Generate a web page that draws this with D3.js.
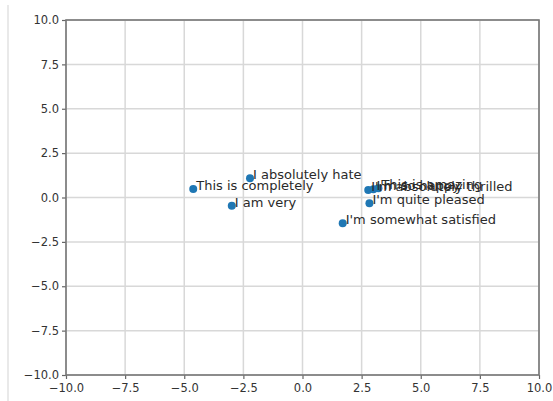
<!DOCTYPE html>
<html><head><meta charset="utf-8">
<script src="https://cdn.jsdelivr.net/npm/d3@7"></script>
<style>body{margin:0;background:#fff;}svg{display:block;font-family:"DejaVu Sans",sans-serif;}</style>
</head><body>
<script>
const labels = ["This is completely","I absolutely hate","I am very","I'm absolutely thrilled","This is amazing","I'm so happy","I'm quite pleased","I'm somewhat satisfied"];
const xs = [-4.62,-2.22,-2.99,2.78,3.21,3.0,2.83,1.70];
const ys = [0.48,1.08,-0.46,0.42,0.52,0.47,-0.33,-1.45];
const tickVals = [-10,-7.5,-5,-2.5,0,2.5,5,7.5,10];

const W=553,H=401;
const svg=d3.select("body").append("svg").attr("width",W).attr("height",H);
const L=66,R=539,T=20,B=375;
const x=d3.scaleLinear().domain([-10,10]).range([L,R]);
const y=d3.scaleLinear().domain([-10,10]).range([B,T]);
const fmt=d=>(d<0?"\u2212":"")+Math.abs(d).toFixed(1);

svg.append("line").attr("x1",8).attr("x2",8).attr("y1",5).attr("y2",H).attr("stroke","#e2e2e2").attr("stroke-width",1.5);

// grid
svg.append("g").selectAll("line").data(tickVals).join("line")
  .attr("x1",d=>x(d)).attr("x2",d=>x(d)).attr("y1",T).attr("y2",B).attr("stroke","#d8d8d8").attr("stroke-width",1.5);
svg.append("g").selectAll("line").data(tickVals).join("line")
  .attr("y1",d=>y(d)).attr("y2",d=>y(d)).attr("x1",L).attr("x2",R).attr("stroke","#d8d8d8").attr("stroke-width",1.5);

const xa=svg.append("g").attr("transform",`translate(0,${B})`).call(d3.axisBottom(x).tickValues(tickVals).tickFormat(fmt).tickSize(4).tickSizeOuter(0));
const ya=svg.append("g").attr("transform",`translate(${L},0)`).call(d3.axisLeft(y).tickValues(tickVals).tickFormat(fmt).tickSize(4).tickSizeOuter(0));
[xa,ya].forEach(g=>{g.select(".domain").remove();g.selectAll("line").attr("stroke","#666").attr("stroke-width",1.2);
  g.selectAll("text").attr("fill","#333").style("font-size","11.5px").style("font-family","DejaVu Sans");});
xa.selectAll("text").attr("dy","0.9em");
// frame
svg.append("rect").attr("x",L).attr("y",T).attr("width",R-L).attr("height",B-T).attr("fill","none").attr("stroke","#777").attr("stroke-width",1.6);

const data=labels.map((t,i)=>({t,x:xs[i],y:ys[i]}));
svg.append("g").selectAll("circle").data(data).join("circle")
  .attr("cx",d=>x(d.x)).attr("cy",d=>y(d.y)).attr("r",4).attr("fill","#1f77b4");
svg.append("g").selectAll("text").data(data).join("text")
  .attr("x",d=>x(d.x)+3).attr("y",d=>y(d.y)+1).text(d=>d.t)
  .attr("fill","#2a2a2a").style("font-size","13px");
</script>
</body></html>
